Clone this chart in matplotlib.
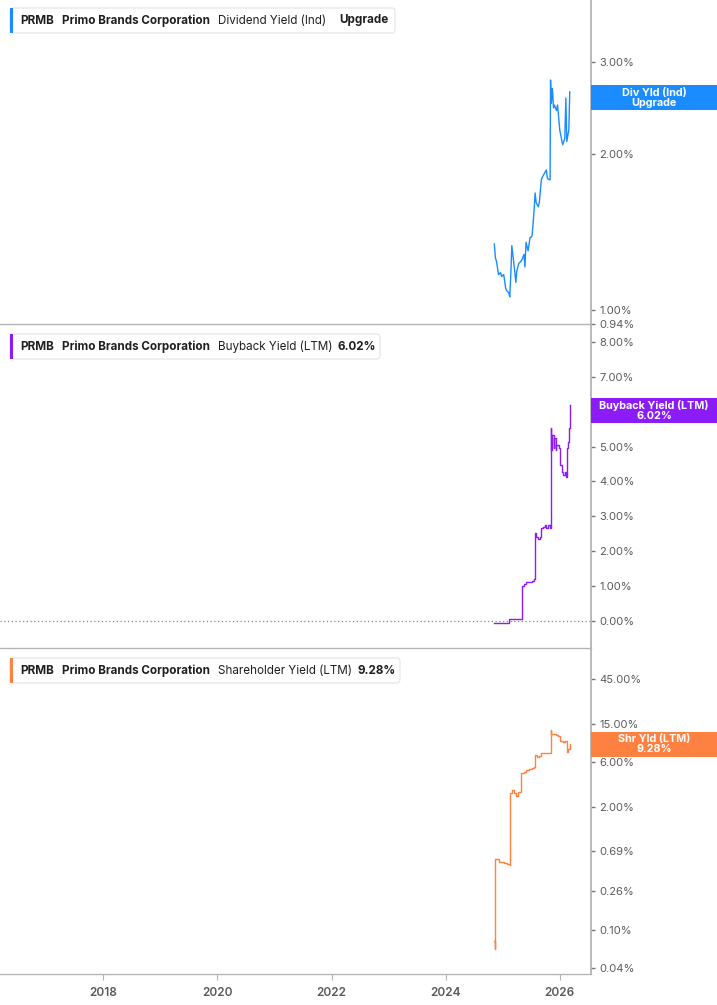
import matplotlib
matplotlib.use("Agg")
import matplotlib.pyplot as plt
from matplotlib.patches import FancyBboxPatch, Rectangle
import pandas as pd

plt.rcParams['font.family'] = ['Inter', 'DejaVu Sans']

# data
div_dates = ["2024-11-08", "2024-11-15", "2024-11-22", "2024-12-05", "2024-12-18", "2024-12-25",
             "2025-01-07", "2025-01-20", "2025-01-26", "2025-02-08", "2025-02-15", "2025-02-22",
             "2025-02-28", "2025-03-13", "2025-03-26", "2025-04-01", "2025-04-14", "2025-04-27",
             "2025-05-04", "2025-05-17", "2025-05-23", "2025-05-30", "2025-06-12", "2025-06-25",
             "2025-07-01", "2025-07-08", "2025-07-21", "2025-07-27", "2025-08-03", "2025-08-16",
             "2025-08-23", "2025-09-05", "2025-09-11", "2025-09-24", "2025-10-07", "2025-10-14",
             "2025-10-31", "2025-11-03", "2025-11-08", "2025-11-15", "2025-11-22", "2025-11-28",
             "2025-12-11", "2025-12-18", "2026-01-01", "2026-01-14", "2026-01-20", "2026-02-02",
             "2026-02-09", "2026-02-15", "2026-02-28", "2026-03-06"]
div_yield = [1.34, 1.26, 1.24, 1.17, 1.18, 1.16,
             1.17, 1.10, 1.09, 1.08, 1.06, 1.18,
             1.33, 1.23, 1.13, 1.19, 1.23, 1.24,
             1.25, 1.28, 1.21, 1.35, 1.30, 1.38,
             1.38, 1.39, 1.56, 1.68, 1.61, 1.58,
             1.61, 1.78, 1.80, 1.83, 1.86, 1.79,
             1.78, 2.77, 2.50, 2.67, 2.45, 2.48,
             2.42, 2.48, 2.22, 2.12, 2.08, 2.14,
             2.56, 2.11, 2.22, 2.63]

bb_dates = ["2024-11-08", "2025-02-08", "2025-02-12", "2025-04-27", "2025-05-04", "2025-05-17",
            "2025-05-30", "2025-06-19", "2025-07-08", "2025-07-21", "2025-07-27", "2025-08-03",
            "2025-08-16", "2025-08-29", "2025-09-05", "2025-09-18", "2025-10-01", "2025-10-07",
            "2025-10-20", "2025-10-31", "2025-11-03", "2025-11-08", "2025-11-15", "2025-11-22",
            "2025-11-28", "2025-12-05", "2025-12-11", "2025-12-25", "2026-01-01", "2026-01-14",
            "2026-01-20", "2026-02-02", "2026-02-09", "2026-02-15", "2026-02-22", "2026-02-28",
            "2026-03-06"]
bb_yield = [-0.05, -0.05, 0.05, 0.05, 1.01, 1.05,
            1.11, 1.13, 1.15, 1.22, 2.51, 2.42,
            2.35, 2.42, 2.66, 2.70, 2.75, 2.67,
            2.75, 2.66, 5.52, 4.90, 5.33, 4.95,
            5.24, 4.90, 5.04, 4.95, 4.47, 4.28,
            4.18, 4.28, 4.13, 4.95, 5.14, 5.52,
            6.18]

sh_dates = ["2024-11-08", "2024-11-12", "2024-11-13", "2024-12-05", "2025-01-07", "2025-01-26",
            "2025-02-15", "2025-02-17", "2025-02-28", "2025-03-13", "2025-03-26", "2025-04-07",
            "2025-04-27", "2025-04-29", "2025-05-17", "2025-05-30", "2025-06-19", "2025-07-08",
            "2025-07-21", "2025-07-27", "2025-08-09", "2025-08-23", "2025-09-05", "2025-09-18",
            "2025-10-07", "2025-10-31", "2025-11-03", "2025-11-08", "2025-11-22", "2025-12-11",
            "2025-12-18", "2026-01-01", "2026-01-20", "2026-02-02", "2026-02-15", "2026-02-22",
            "2026-03-10"]
sh_yield = [0.0765, 0.064, 0.573, 0.53, 0.515, 0.50,
            0.49, 2.79, 3.02, 2.79, 2.61, 2.87,
            2.87, 4.54, 4.71, 4.92, 5.00, 5.13,
            5.33, 7.08, 6.80, 6.90, 7.38, 7.50,
            7.50, 7.50, 13.0, 11.8, 11.8, 11.5,
            11.3, 10.0, 9.8, 10.0, 7.67, 8.2,
            9.3]

div_ticks = [0.94, 1.00, 2.00, 3.00]
bb_ticks = [0, 1, 2, 3, 4, 5, 6, 7, 8]
sh_ticks = [0.04, 0.10, 0.26, 0.69, 2.00, 6.00, 15.00, 45.00]
year_ticks = [2018, 2020, 2022, 2024, 2026]

titles = ["Dividend Yield (Ind)", "Buyback Yield (LTM)", "Shareholder Yield (LTM)"]
title_vals = ["Upgrade", "6.02%", "9.28%"]
box_labels = ["Div Yld (Ind)\nUpgrade", "Buyback Yield (LTM)\n6.02%", "Shr Yld (LTM)\n9.28%"]
box_vals = [2.56, 6.02, 9.28]

blue = "#1a8cff"
purple = "#8b1cf7"
orange = "#ff8142"
spine_c = "#b4b4b4"
txt_c = "#5a5a5a"

W, H = 717, 1005
fig = plt.figure(figsize=(W / 100, H / 100), dpi=100)

def fx(px):
    return px / W

def fy(py):
    return 1 - py / H

right = fx(591)
ax1 = fig.add_axes([0, fy(324), right, 324 / H])
ax2 = fig.add_axes([0, fy(648), right, 324 / H])
ax3 = fig.add_axes([0, fy(974), right, 326 / H])

xl = (pd.Timestamp("2016-03-10"), pd.Timestamp("2026-07-20"))

ax1.plot(pd.to_datetime(div_dates), div_yield, color=blue, lw=1.0)
ax1.set_yscale("log")
ax1.set_ylim(0.94, 3.95)
ax1.set_yticks(div_ticks)
ax1.set_yticklabels(["%.2f%%" % v for v in div_ticks])

ax2.plot(pd.to_datetime(bb_dates), bb_yield, color=purple, lw=1.0, drawstyle="steps-post")
ax2.axhline(0, color="#888888", lw=0.9, ls=(0, (1, 2)))
ax2.set_ylim(-0.77, 8.51)
ax2.set_yticks(bb_ticks)
# the 6% label sits behind the value box
ax2.set_yticklabels(["" if v == 6 else "%.2f%%" % v for v in bb_ticks])

ax3.plot(pd.to_datetime(sh_dates), sh_yield, color=orange, lw=1.0, drawstyle="steps-post")
ax3.set_yscale("log")
ax3.set_ylim(0.0346, 95.8)
ax3.set_yticks(sh_ticks)
ax3.set_yticklabels(["%.2f%%" % v for v in sh_ticks])
ax3.yaxis.set_minor_locator(matplotlib.ticker.NullLocator())
ax1.yaxis.set_minor_locator(matplotlib.ticker.NullLocator())

for ax in (ax1, ax2, ax3):
    ax.set_xlim(xl)
    ax.yaxis.tick_right()
    for s in ("top", "left"):
        ax.spines[s].set_visible(False)
    ax.spines["right"].set_color(spine_c)
    ax.spines["right"].set_linewidth(1.3)
    ax.spines["bottom"].set_color(spine_c)
    ax.spines["bottom"].set_linewidth(1.0)
    ax.tick_params(axis="y", which="both", length=3, width=1, color="#777777",
                   labelsize=8, labelcolor=txt_c, pad=3)
    ax.patch.set_alpha(0)

for ax in (ax1, ax2):
    ax.tick_params(axis="x", which="both", bottom=False, labelbottom=False)

ax3.set_xticks([pd.Timestamp("%d-01-01" % y) for y in year_ticks])
ax3.set_xticklabels([str(y) for y in year_ticks])
ax3.tick_params(axis="x", length=4, color=spine_c, labelsize=8.5, labelcolor=txt_c, pad=5)
for lab in ax3.get_xticklabels():
    lab.set_fontweight("semibold")

# legend boxes at top left of each panel
tops = [8, 334, 658]
box_w = [385, 370, 390]
colors = [blue, purple, orange]
val_x = [339, 337, 358]
for i in range(3):
    t = tops[i]
    fig.patches.append(FancyBboxPatch((fx(10), fy(t + 25)), fx(box_w[i]), 25 / H,
                                      boxstyle="round,pad=0,rounding_size=0.004",
                                      transform=fig.transFigure, facecolor="white",
                                      edgecolor="#e4e4e4", lw=0.8, zorder=5))
    fig.patches.append(Rectangle((fx(10), fy(t + 25)), fx(3), 25 / H,
                                 transform=fig.transFigure, facecolor=colors[i],
                                 edgecolor="none", zorder=6))
    yc = fy(t + 12.5)
    fig.text(fx(20), yc, "PRMB", fontsize=8.4, fontweight="bold", color="#1f1f1f",
             va="center", zorder=7)
    fig.text(fx(62), yc, "Primo Brands Corporation", fontsize=8.4, fontweight="bold",
             color="#1f1f1f", va="center", zorder=7)
    fig.text(fx(218), yc, titles[i], fontsize=8.4, color="#1f1f1f", va="center", zorder=7)
    fig.text(fx(val_x[i]), yc, title_vals[i], fontsize=8.4, fontweight="bold",
             color="#1f1f1f", va="center", zorder=7)

# value boxes on the right axis
fig.canvas.draw()
for ax, v, lab, c in zip((ax1, ax2, ax3), box_vals, box_labels, colors):
    ydisp = ax.transData.transform((0, v))[1]
    yfig = ydisp / fig.bbox.height
    fig.patches.append(Rectangle((right, yfig - 12.5 / H), 1 - right, 25 / H,
                                 transform=fig.transFigure, facecolor=c,
                                 edgecolor="none", zorder=5))
    fig.text((right + 1) / 2, yfig, lab, fontsize=7.8, fontweight="bold", color="white",
             ha="center", va="center", linespacing=1.0, zorder=6)

fig.savefig("out.png", dpi=100)
